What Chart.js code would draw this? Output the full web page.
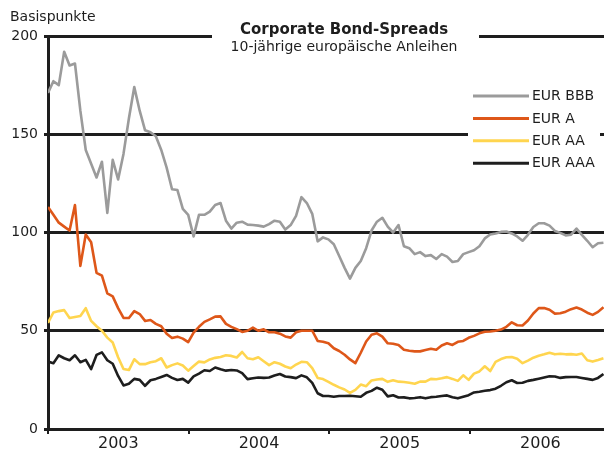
<!DOCTYPE html>
<html>
<head>
<meta charset="utf-8">
<script src="https://cdn.jsdelivr.net/npm/chart.js@4/dist/chart.umd.min.js"></script>
<style>
  html, body { margin: 0; padding: 0; background: #fff; }
  #wrap { width: 604px; height: 452px; position: relative; }
</style>
</head>
<body>
<div id="wrap"><canvas id="chart" width="604" height="452"></canvas></div>
<script>
  // Bi-weekly spreads in basis points, starting Jan 2003
  const START_YEAR = 2003;
  const STEP_DAYS = 14;

  const SERIES_NAMES = ["EUR BBB", "EUR A", "EUR AA", "EUR AAA"];
  const SERIES_COLORS = ["#9b9b9b", "#de5719", "#ffd54f", "#1e1e1e"];

  const bbb = [
    171, 177, 175, 192, 185, 186, 162, 142, 135, 128,
    136, 110, 137, 127, 140, 158, 174, 162, 152, 151,
    149, 142, 133, 122, 121.6, 112, 109, 98, 109, 109,
    110.6, 114, 115, 106, 102, 105, 105.5, 104, 103.8, 103.5,
    103, 104.3, 106, 105.5, 101.5, 103.8, 108.5, 118, 115, 109.5,
    95.5, 97.5, 96.5, 94, 88, 82, 76.5, 82, 85.5, 92,
    101, 105.5, 107.5, 103, 100, 103.8, 93, 92, 89, 90,
    88, 88.5, 86.5, 89, 87.7, 85, 85.5, 89, 90, 91,
    93, 97, 99, 99.5, 100.3, 100.5, 99.5, 98, 95.8, 98.8,
    102.8, 104.7, 104.7, 103.5, 100.8, 99.8, 98.5, 98.9, 102, 98.8,
    95.8, 92.5, 94.5, 94.8
  ];

  const ratingA = [
    113, 109, 105, 103, 101, 114, 83, 99, 95, 79.5,
    78, 69, 67.5, 61.5, 56.5, 56.5, 60, 58.5, 55, 55.5,
    53.5, 52.3, 48.5, 46.3, 47, 46, 44.2, 49, 52, 54.5,
    55.8, 57.2, 57.3, 53.5, 52, 50.8, 49.4, 50, 51.6, 50,
    50.7, 49.2, 49.2, 48.5, 47.1, 46.5, 49.2, 50, 50, 50,
    44.8, 44.4, 43.6, 41.1, 39.7, 37.8, 35.4, 33.5, 38.8, 44.5,
    48, 48.7, 47, 43.6, 43.4, 42.7, 40.3, 39.8, 39.5, 39.5,
    40.2, 40.8, 40.3, 42.5, 43.6, 42.8, 44.4, 44.8, 46.4, 47.4,
    48.7, 49.5, 49.6, 50, 50.6, 52, 54.3, 52.8, 52.7, 55.2,
    58.8, 61.5, 61.6, 60.7, 58.7, 58.9, 59.7, 61, 61.8, 60.8,
    59.2, 58.1, 59.6, 62
  ];

  const ratingAA = [
    54, 59.3, 60, 60.5, 56.5, 57, 57.5, 61.5, 55, 52.3,
    50, 46.5, 44, 36.5, 30.5, 30, 35.5, 33, 33, 34,
    34.5, 36, 31.3, 32.5, 33.4, 32.3, 29.7, 32, 34.3, 33.9,
    35.4, 36.2, 36.6, 37.5, 37.2, 36.4, 39.2, 36, 35.5, 36.5,
    34.5, 32.5, 34, 33.2, 31.8, 30.9, 32.8, 34.2, 34, 31,
    26, 25.4, 24, 22.5, 21.2, 20.1, 18.4, 19.9, 22.6, 21.8,
    24.7, 25.2, 25.5, 24, 24.8, 24.1, 23.9, 23.5, 23, 24.1,
    24.1, 25.5, 25.3, 25.8, 26.4, 25.5, 24.5, 27.3, 25, 28.2,
    29.3, 31.9, 29.5, 34.2, 35.6, 36.5, 36.6, 35.8, 33.5, 34.8,
    36.3, 37.3, 38, 38.8, 38, 38.3, 38, 38.1, 37.8, 38.4,
    35, 34.3, 35.1, 36
  ];

  const ratingAAA = [
    34.3, 33.5, 37.5, 36, 35, 37.5, 34, 35.2, 30.5, 37.7,
    39, 35, 33.2, 27, 22.2, 23, 25.5, 25, 22, 24.8,
    25.5, 26.5, 27.5, 26, 24.9, 25.5, 23.6, 26.8, 28.2, 29.9,
    29.5, 31.3, 30.4, 29.7, 30, 29.8, 28.4, 25.4, 25.8, 26.2,
    26, 26.2, 27.2, 28, 26.7, 26.4, 25.9, 27.3, 26.3, 23.5,
    18.2, 16.8, 16.8, 16.4, 16.8, 16.8, 16.9, 16.7, 16.4, 18.4,
    19.4, 21, 20, 16.6, 17.2, 16, 16.1, 15.6, 15.8, 16.2,
    15.6, 16.2, 16.4, 16.8, 17.1, 16.2, 15.6, 16.4, 17.2, 18.6,
    19, 19.5, 19.8, 20.5, 22, 23.8, 24.8, 23.4, 23.5, 24.5,
    25, 25.6, 26.2, 26.8, 26.7, 26, 26.4, 26.5, 26.5, 26,
    25.5, 25, 26, 28
  ];

  const Y_TICKS = [0, 50, 100, 150, 200];
  const YEAR_LABELS = ["2003", "2004", "2005", "2006"];

  const FONT = "'DejaVu Sans', Verdana, sans-serif";
  const INK = "#1e1e1e";

  function toPoints(values) {
    return values.map((v, i) => ({ x: START_YEAR + (i * STEP_DAYS) / 365.25, y: v }));
  }

  const datasets = [bbb, ratingA, ratingAA, ratingAAA].map((vals, k) => ({
    label: SERIES_NAMES[k],
    data: toPoints(vals),
    borderColor: SERIES_COLORS[k],
    borderWidth: 2.6,
    pointRadius: 0,
    tension: 0,
    borderJoinStyle: "round",
  })).reverse();

  // xtick values: year boundaries (tick marks) and mid-years (labels)
  const xTickValues = [];
  YEAR_LABELS.forEach((y) => {
    xTickValues.push(Number(y), Number(y) + 0.5);
  });

  const decor = {
    id: "decor",
    beforeDatasetsDraw(chart) {
      const ctx = chart.ctx;
      ctx.save();
      ctx.fillStyle = "#fff";
      ctx.fillRect(212, 30, 267, 13);   // title box over the 200 line
      ctx.fillRect(468, 127, 132, 15);  // legend box over the 150 line
      ctx.restore();
    },
    afterDraw(chart) {
      const ctx = chart.ctx;
      ctx.save();
      ctx.fillStyle = INK;
      ctx.textBaseline = "middle";

      ctx.textAlign = "left";
      ctx.font = "14px " + FONT;
      ctx.fillText("Basispunkte", 10, 17);

      ctx.textAlign = "center";
      ctx.font = "bold 15px " + FONT;
      ctx.fillText("Corporate Bond-Spreads", 344, 30);
      ctx.font = "14px " + FONT;
      ctx.fillText("10-jährige europäische Anleihen", 344, 47);

      // legend
      ctx.textAlign = "left";
      SERIES_NAMES.forEach((name, k) => {
        const y = 96 + k * 22.4;
        ctx.strokeStyle = SERIES_COLORS[k];
        ctx.lineWidth = 3;
        ctx.beginPath();
        ctx.moveTo(473, y);
        ctx.lineTo(529, y);
        ctx.stroke();
        ctx.fillStyle = INK;
        ctx.font = "14px " + FONT;
        ctx.fillText(name, 532, y + 0.5);
      });
      ctx.restore();
    },
  };

  new Chart(document.getElementById("chart"), {
    type: "line",
    data: { datasets },
    options: {
      responsive: false,
      animation: false,
      devicePixelRatio: 1,
      layout: { padding: { top: 36, left: 0, right: 0, bottom: 0 } },
      plugins: { legend: { display: false }, title: { display: false }, tooltip: { enabled: false } },
      scales: {
        x: {
          type: "linear",
          min: 2003,
          max: 2006.952,
          afterBuildTicks: (s) => { s.ticks = xTickValues.map((v) => ({ value: v })); },
          afterFit: (s) => { s.height = 23; },
          ticks: {
            autoSkip: false,
            maxRotation: 0,
            padding: 0,
            color: INK,
            font: { family: FONT, size: 16 },
            callback: (v) => (v % 1 ? String(Math.floor(v)) : ""),
          },
          grid: {
            drawOnChartArea: false,
            tickLength: 5,
            lineWidth: 2,
            tickColor: (c) => (c.tick && c.tick.value % 1 === 0 ? INK : "rgba(0,0,0,0)"),
          },
          border: { display: true, width: 3, color: INK },
        },
        y: {
          min: 0,
          max: 200,
          afterBuildTicks: (s) => { s.ticks = Y_TICKS.map((v) => ({ value: v })); },
          afterFit: (s) => { s.width = 48; },
          ticks: {
            padding: 6,
            color: INK,
            font: { family: FONT, size: 14 },
          },
          grid: { color: INK, lineWidth: 3, tickLength: 4 },
          border: { display: true, width: 3, color: INK },
        },
      },
    },
    plugins: [decor],
  });
</script>
</body>
</html>
